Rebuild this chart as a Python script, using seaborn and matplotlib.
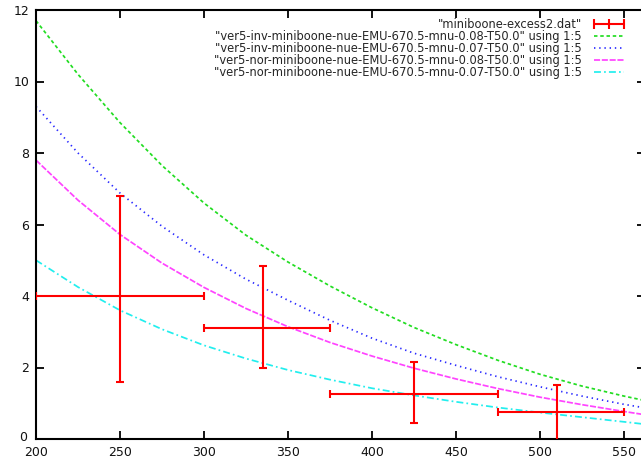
import matplotlib
matplotlib.use("Agg")
import matplotlib.pyplot as plt
from matplotlib.lines import Line2D
import matplotlib.transforms as mtransforms
import seaborn as sns
import pandas as pd
import numpy as np

# ---- data ----
energy = [200, 225, 250, 275, 300, 325, 350, 375, 400, 425, 450, 475, 500, 525, 550, 565]
inv_008 = [11.7, 10.2, 8.85, 7.65, 6.6, 5.7, 4.95, 4.28, 3.67, 3.12, 2.64, 2.2, 1.81, 1.48, 1.2, 1.05]
inv_007 = [9.3, 8.0, 6.88, 5.95, 5.15, 4.47, 3.88, 3.32, 2.82, 2.4, 2.06, 1.74, 1.46, 1.2, 0.97, 0.85]
nor_008 = [7.8, 6.68, 5.72, 4.92, 4.24, 3.65, 3.14, 2.7, 2.32, 1.98, 1.68, 1.41, 1.17, 0.96, 0.77, 0.66]
nor_007 = [5.0, 4.25, 3.6, 3.07, 2.62, 2.25, 1.93, 1.66, 1.42, 1.22, 1.04, 0.88, 0.74, 0.61, 0.48, 0.4]

excess_x = [250, 335, 425, 510]
excess_y = [4.0, 3.1, 1.25, 0.75]
excess_xlo = [200, 300, 375, 475]
excess_xhi = [300, 375, 475, 550]
excess_ylo = [1.6, 2.0, 0.45, -0.1]
excess_yhi = [6.8, 4.85, 2.15, 1.5]

labels = [
    '"miniboone-excess2.dat"',
    '"ver5-inv-miniboone-nue-EMU-670.5-mnu-0.08-T50.0" using 1:5',
    '"ver5-inv-miniboone-nue-EMU-670.5-mnu-0.07-T50.0" using 1:5',
    '"ver5-nor-miniboone-nue-EMU-670.5-mnu-0.08-T50.0" using 1:5',
    '"ver5-nor-miniboone-nue-EMU-670.5-mnu-0.07-T50.0" using 1:5',
]
xticks = [200, 250, 300, 350, 400, 450, 500, 550]
yticks = [0, 2, 4, 6, 8, 10, 12]

sns.set_theme(style="white")
plt.rcParams["font.family"] = ["DejaVu Sans"]

fig = plt.figure(figsize=(6.41, 4.63), dpi=100)
ax = fig.add_axes([36 / 641, 24 / 463, (645 - 36) / 641, 429 / 463])

series = [
    (inv_008, "#22dd22", (2.0, 1.6)),
    (inv_007, "#2a2aff", (0.8, 2.2)),
    (nor_008, "#ff44ff", (3.5, 1.0)),
    (nor_007, "#22eeee", (4.0, 1.8, 1.0, 1.8)),
]

handles = []
ax.errorbar(
    excess_x, excess_y,
    xerr=[np.subtract(excess_x, excess_xlo), np.subtract(excess_xhi, excess_x)],
    yerr=[np.subtract(excess_y, excess_ylo), np.subtract(excess_yhi, excess_y)],
    fmt="none", ecolor="#ff0000", elinewidth=1.5, capsize=3, capthick=1.5, zorder=3,
)
handles.append(Line2D([0], [0], color="#ff0000", lw=1.5, marker="|",
                      markersize=7, markeredgewidth=1.5))

for vals, col, dash in series:
    df = pd.DataFrame({"E": energy, "v": vals})
    sns.lineplot(data=df, x="E", y="v", ax=ax, color=col, lw=1.25,
                 dashes=False, legend=False, zorder=2)
    ln = ax.lines[-1]
    ln.set_dashes(dash)
    handles.append(Line2D([0], [0], color=col, lw=1.25, dashes=dash))

ax.set_xlim(200, 200 + (645 - 36) / (588 / 350))
ax.set_ylim(0, 12)
ax.set_xticks(xticks)
ax.set_yticks(yticks)
ax.set_xlabel("")
ax.set_ylabel("")
for s in ax.spines.values():
    s.set_color("black")
    s.set_linewidth(1.5)
ax.tick_params(direction="in", length=6, width=1.3, colors="black",
               top=True, right=True, bottom=True, left=True,
               labelsize=9)
ax.tick_params(axis="x", pad=5)
ax.tick_params(axis="y", pad=5)
for t in ax.get_xticklabels() + ax.get_yticklabels():
    t.set_color("#111111")
# raise the "0" y label slightly, as in the reference
ylabs = ax.get_yticklabels()
ylabs[0].set_transform(ylabs[0].get_transform() +
                       mtransforms.ScaledTranslation(-2 / 100, 3 / 100, fig.dpi_scale_trans))

ax.legend(handles, labels, loc="upper right", frameon=False,
          markerfirst=False, fontsize=8.3, handlelength=3.2,
          handletextpad=0.8, labelspacing=-0.08, numpoints=3,
          borderaxespad=0.3, bbox_to_anchor=(0.985, 1.0))

fig.savefig("out.png", dpi=100)
